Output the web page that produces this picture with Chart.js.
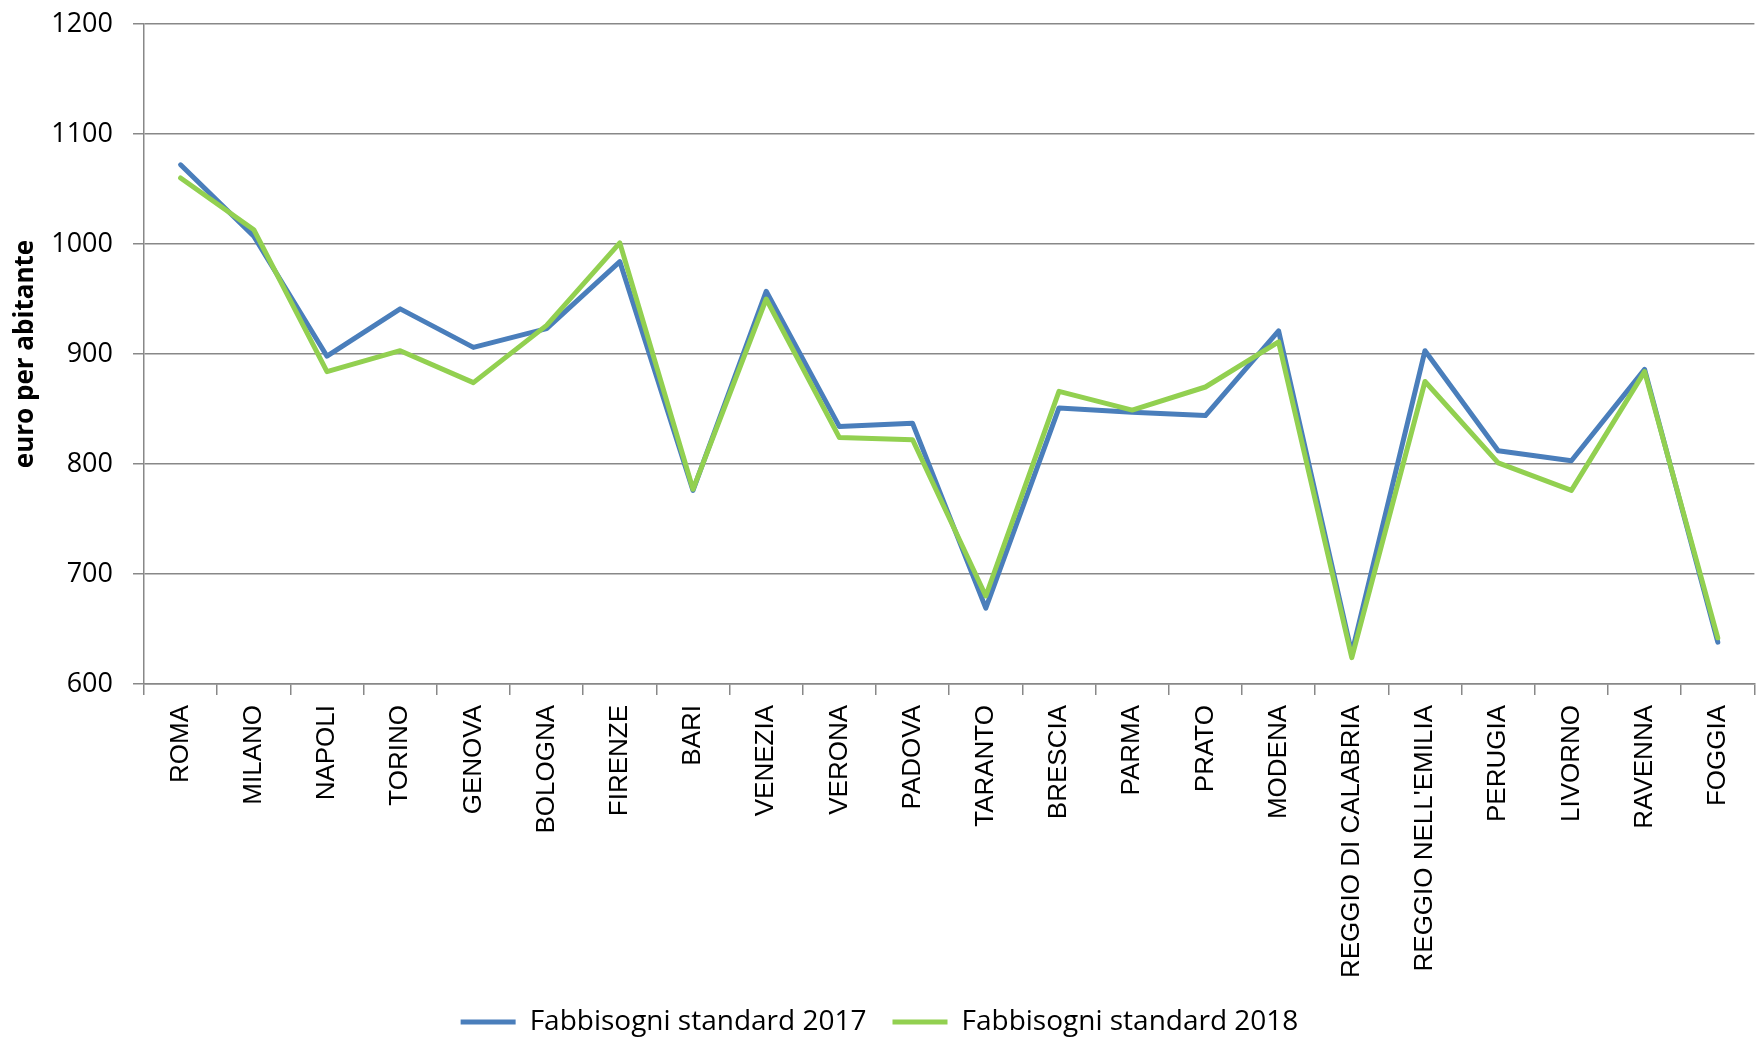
<!DOCTYPE html>
<html>
<head>
<meta charset="utf-8">
<script src="https://cdn.jsdelivr.net/npm/chart.js@4.4.1/dist/chart.umd.min.js"></script>
<style>
    body { margin: 0; background: #fff; }
    #wrap { width: 1759px; height: 1038px; }
</style>
</head>
<body>
<div id="wrap"><canvas id="chart" width="1759" height="1038"></canvas></div>
<script>
// fabbisogni standard per abitante, comuni capoluogo
const cities = ['ROMA', 'MILANO', 'NAPOLI', 'TORINO', 'GENOVA', 'BOLOGNA', 'FIRENZE', 'BARI',
    'VENEZIA', 'VERONA', 'PADOVA', 'TARANTO', 'BRESCIA', 'PARMA', 'PRATO', 'MODENA',
    'REGGIO DI CALABRIA', "REGGIO NELL'EMILIA", 'PERUGIA', 'LIVORNO', 'RAVENNA', 'FOGGIA'];

const fs2017 = [1072, 1007, 898, 941, 906, 923, 984, 776, 957, 834, 837, 669,
    851, 847, 844, 921, 628, 903, 812, 803, 886, 638];

const fs2018 = [1060, 1013, 884, 903, 874, 926, 1001, 777, 950, 824, 822, 680,
    866, 849, 870, 911, 624, 875, 801, 776, 884, 642];

const yMin = 600;
const yMax = 1200;
const yStep = 100;

const gridColor = '#888888';
const legendPadding = 26;
const legendFont = 28;
const bottomShift = -8;

document.addEventListener('DOMContentLoaded', function() {
    const ctx = document.getElementById('chart').getContext('2d');

    new Chart(ctx, {
        type: 'line',
        data: {
            labels: cities,
            datasets: [{
                label: 'Fabbisogni standard 2017',
                data: fs2017,
                borderColor: '#4a7ebb',
                backgroundColor: '#4a7ebb',
                borderWidth: 5,
                order: 1
            }, {
                label: 'Fabbisogni standard 2018',
                data: fs2018,
                borderColor: '#92d050',
                backgroundColor: '#92d050',
                borderWidth: 5,
                order: 0
            }]
        },
        options: {
            responsive: false,
            animation: false,
            devicePixelRatio: 1,
            layout: {
                autoPadding: false,
                padding: { top: 24, right: 0, left: 0, bottom: bottomShift }
            },
            elements: {
                point: { radius: 0, hoverRadius: 0 },
                line: { tension: 0, borderJoinStyle: 'round', borderCapStyle: 'round' }
            },
            plugins: {
                tooltip: { enabled: false },
                legend: {
                    position: 'bottom',
                    labels: {
                        color: '#000',
                        font: { family: 'Open Sans', size: legendFont },
                        usePointStyle: true,
                        pointStyle: 'line',
                        pointStyleWidth: 55,
                        padding: legendPadding,
                        sort: (a, b) => a.datasetIndex - b.datasetIndex
                    }
                }
            },
            scales: {
                x: {
                    offset: true,
                    grid: {
                        offset: true,
                        drawOnChartArea: false,
                        drawTicks: true,
                        tickLength: 11,
                        color: gridColor,
                        lineWidth: 1.5
                    },
                    border: { color: gridColor, width: 1.5 },
                    ticks: {
                        color: '#000',
                        font: { family: 'Liberation Sans', size: 26 },
                        minRotation: 90,
                        maxRotation: 90,
                        autoSkip: false,
                        padding: 10
                    },
                    afterFit: function(scale) {
                        scale.height = 1038 - bottomShift - 684 - (legendFont + legendPadding + 10);
                    }
                },
                y: {
                    min: yMin,
                    max: yMax,
                    ticks: {
                        stepSize: yStep,
                        color: '#000',
                        // small lineHeight keeps the top label from pushing the plot down
                        font: { family: 'Open Sans', size: 27, lineHeight: 0.2 },
                        padding: 20,
                        callback: value => String(value)
                    },
                    grid: {
                        color: gridColor,
                        lineWidth: 1.5,
                        tickLength: 11
                    },
                    border: { color: gridColor, width: 1.5 },
                    title: {
                        display: true,
                        text: 'euro per abitante',
                        color: '#000',
                        font: { family: 'Open Sans', size: 26, weight: 'bold' },
                        padding: { top: 10, bottom: 0 }
                    },
                    afterFit: function(scale) {
                        scale.width = 144;
                    }
                }
            }
        }
    });
});
</script>
</body>
</html>
